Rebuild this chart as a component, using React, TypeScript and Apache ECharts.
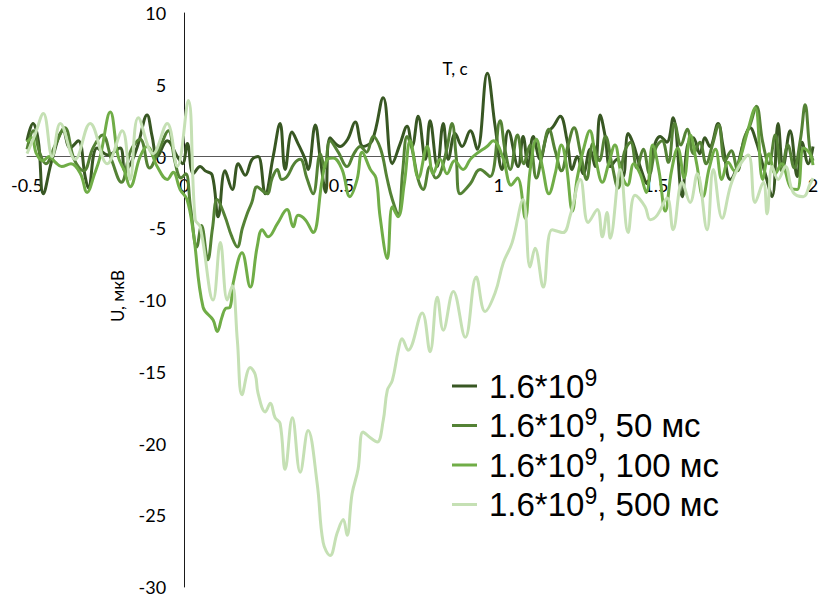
import React, { useEffect, useRef } from "react";
import * as echarts from "echarts";

const seriesNames = ["1.6*10^9", "1.6*10^9, 50 мс", "1.6*10^9, 100 мс", "1.6*10^9, 500 мс"];
const legendSuffix = ["", ", 50 мс", ", 100 мс", ", 500 мс"];
const seriesColors = ["#385723", "#548235", "#70AD47", "#C5E0B4"];
const xTicks = [-0.5, 0, 0.5, 1, 1.5, 2];
const yTicks = [-30, -25, -20, -15, -10, -5, 0, 5, 10];

const s0: number[][] = [
  [-0.5, 1.1], [-0.481, 2.3], [-0.464, 1.1], [-0.448, -2.6], [-0.42, -0.2], [-0.385, 1.8], [-0.363, 0.6],
  [-0.337, 1.1], [-0.315, -1.4], [-0.305, -2.2], [-0.277, 0.6], [-0.242, 0.1], [-0.204, 0.6], [-0.188, -1.0],
  [-0.166, -0.3], [-0.146, 0.9], [-0.118, 2.9], [-0.102, 1.4], [-0.086, 0.0], [-0.054, 1.1], [-0.022, 0.0],
  [-0.005, -0.5], [0.01, 0.9], [0.029, -1.2], [0.051, -0.7], [0.067, -1.0], [0.089, -1.3], [0.108, -4.2],
  [0.13, -1.0], [0.153, -2.3], [0.172, -0.5], [0.194, -1.3], [0.216, -0.2], [0.235, 0.0], [0.258, -2.6],
  [0.283, 0.0], [0.305, 2.3], [0.321, -0.9], [0.343, 1.7], [0.362, 0.9], [0.385, -0.2], [0.394, -0.9],
  [0.417, 2.2], [0.433, -0.2], [0.45, -2.5], [0.464, 1.3], [0.496, 0.7], [0.52, 1.2], [0.544, 2.4],
  [0.569, 0.7], [0.598, 1.1], [0.633, 4.1], [0.662, -0.5], [0.687, 0.9], [0.709, 2.1], [0.725, 0.7],
  [0.744, 2.8], [0.767, -0.2], [0.782, 2.5], [0.805, -0.7], [0.824, 2.3], [0.84, -0.2], [0.862, 1.6],
  [0.884, 0.7], [0.91, 1.8], [0.932, 0.5], [0.964, 5.8], [0.989, 2.1], [1.011, -0.9], [1.031, 1.8],
  [1.062, -0.7], [1.078, 1.4], [1.094, -0.7], [1.11, 1.4], [1.132, -0.2], [1.155, 1.6], [1.174, 2.1],
  [1.196, 2.8], [1.218, 1.1], [1.234, -0.9], [1.25, 0.0], [1.269, -1.2], [1.291, 0.5], [1.307, -0.7],
  [1.323, 2.9], [1.339, 1.4], [1.355, -0.7], [1.377, -0.2], [1.396, -1.4], [1.412, 1.6], [1.428, 0.9],
  [1.45, -0.7], [1.473, -1.9], [1.492, 0.5], [1.514, 1.4], [1.535, 1.0], [1.555, 2.7], [1.584, -2.8],
  [1.6, 0.7], [1.619, 1.3], [1.64, 0.2], [1.656, 1.3], [1.672, 0.7], [1.698, 2.3], [1.714, 0.7],
  [1.737, -1.6], [1.759, -0.7], [1.778, 0.9], [1.8, 2.0], [1.82, 1.0], [1.848, -1.2], [1.87, -2.8],
  [1.889, 2.3], [1.905, -0.7], [1.927, 1.8], [1.95, -1.4], [1.965, 1.0], [1.985, -0.5], [2.0, 0.7],
];

const s1: number[][] = [
  [-0.5, 0.5], [-0.48, 1.8], [-0.46, 0.3], [-0.44, -0.5], [-0.41, 0.8], [-0.38, 2.0], [-0.35, -0.2],
  [-0.32, -1.0], [-0.29, 0.6], [-0.26, 1.5], [-0.23, -0.3], [-0.2, -1.8], [-0.17, 0.4], [-0.14, 1.2],
  [-0.11, -0.8], [-0.08, 0.5], [-0.05, 1.8], [-0.03, -0.3], [-0.01, -1.5], [0.005, -1.2], [0.02, -3.5],
  [0.04, -6.3], [0.055, -4.8], [0.075, -7.2], [0.09, -5.0], [0.105, -3.0], [0.13, -4.2], [0.15, -5.5],
  [0.169, -6.3], [0.185, -5.0], [0.2, -4.0], [0.215, -3.2], [0.232, -2.1], [0.25, -2.4], [0.264, -2.6],
  [0.28, -1.5], [0.296, -0.9], [0.31, -1.6], [0.327, -1.4], [0.35, -0.5], [0.369, -0.2], [0.39, -1.5],
  [0.41, -2.6], [0.433, 0.2], [0.447, -0.8], [0.464, 1.1], [0.49, 0.3], [0.518, -0.7], [0.54, 0.2],
  [0.56, 0.7], [0.58, 0.3], [0.601, 1.4], [0.625, 0.5], [0.645, -1.5], [0.662, -3.0], [0.681, -4.0],
  [0.695, -1.0], [0.709, 1.4], [0.725, 0.5], [0.744, -1.6], [0.76, -2.3], [0.782, -0.7], [0.8, -1.5],
  [0.814, -1.2], [0.835, 0.5], [0.852, 2.3], [0.865, 0.0], [0.878, -2.6], [0.91, -1.9], [0.941, -0.9],
  [0.973, -1.4], [1.005, 2.5], [1.02, 0.5], [1.037, -0.9], [1.06, 1.5], [1.08, -0.5], [1.1, 0.8],
  [1.12, -1.5], [1.14, 0.3], [1.16, 1.9], [1.18, 0.4], [1.2, -1.0], [1.22, 0.7], [1.24, 2.0], [1.26, 0.3],
  [1.28, -1.6], [1.3, 0.9], [1.32, -0.3], [1.34, 1.4], [1.36, -0.5], [1.38, -2.2], [1.4, 0.3], [1.42, 1.0],
  [1.44, -0.8], [1.46, 0.5], [1.48, -1.2], [1.5, 0.6], [1.52, 1.1], [1.54, -0.4], [1.56, 2.3], [1.58, 0.8],
  [1.6, 1.9], [1.62, 0.2], [1.64, 1.0], [1.66, -0.5], [1.68, 0.8], [1.7, 2.2], [1.72, -0.3], [1.74, 0.4],
  [1.76, -1.0], [1.78, 1.2], [1.8, 2.2], [1.82, 3.5], [1.84, 1.0], [1.86, -0.5], [1.88, 1.5], [1.9, -1.0],
  [1.92, 0.8], [1.94, -0.8], [1.96, 1.2], [1.975, 3.6], [1.99, 0.5], [2.0, -0.3],
];

const s2: number[][] = [
  [-0.5, 1.0], [-0.485, 1.3], [-0.47, 0.2], [-0.45, -0.3], [-0.43, 0.0], [-0.41, -0.4], [-0.39, -0.7],
  [-0.36, -0.5], [-0.33, -1.2], [-0.309, -2.5], [-0.285, -1.2], [-0.267, 0.0], [-0.235, 3.1], [-0.21, 0.0],
  [-0.19, -1.0], [-0.172, -2.1], [-0.14, 0.0], [-0.118, 0.7], [-0.086, -0.7], [-0.054, -1.6], [-0.035, -1.1],
  [-0.013, -2.3], [0.009, -3.0], [0.029, -5.3], [0.06, -10.5], [0.092, -11.4], [0.105, -12.2], [0.12, -11.2],
  [0.131, -10.6], [0.146, -10.5], [0.156, -8.8], [0.184, -6.7], [0.21, -9.1], [0.232, -6.3], [0.248, -5.1],
  [0.267, -5.6], [0.296, -4.7], [0.327, -3.7], [0.347, -4.9], [0.362, -4.1], [0.385, -4.4], [0.41, -5.3],
  [0.439, -1.6], [0.455, -0.2], [0.474, -0.1], [0.502, -0.9], [0.527, -2.8], [0.55, -1.6], [0.566, 0.3],
  [0.592, -0.9], [0.61, -1.5], [0.623, -4.2], [0.646, -7.1], [0.662, -3.5], [0.68, -4.2], [0.7, -1.9],
  [0.719, 1.1], [0.745, -1.5], [0.773, 0.7], [0.792, -1.2], [0.814, -0.2], [0.836, -1.2], [0.86, -0.3],
  [0.887, -0.9], [0.91, -0.2], [0.93, 0.2], [0.963, 0.7], [0.983, 1.1], [1.014, -0.1], [1.04, -2.0],
  [1.06, -1.5], [1.085, -4.3], [1.1, -1.0], [1.12, 1.2], [1.14, -0.8], [1.16, -2.6], [1.18, -1.2],
  [1.2, 0.8], [1.215, -0.5], [1.235, -3.8], [1.25, -1.5], [1.27, 0.5], [1.29, 1.8], [1.31, -0.3],
  [1.33, -1.8], [1.35, -0.5], [1.37, 0.8], [1.39, -1.2], [1.41, -2.0], [1.43, -0.5], [1.45, -1.2],
  [1.47, -2.5], [1.49, 0.8], [1.51, -1.0], [1.53, -3.8], [1.55, -1.0], [1.57, 0.6], [1.59, -1.5],
  [1.61, 1.5], [1.63, -0.5], [1.65, -2.8], [1.67, -0.8], [1.69, 0.5], [1.71, -1.6], [1.73, -0.4],
  [1.75, -1.0], [1.77, 0.0], [1.79, 1.6], [1.816, 3.4], [1.84, -1.6], [1.86, 0.2], [1.88, -1.2],
  [1.9, -0.5], [1.93, -2.2], [1.95, -2.3], [1.97, 0.6], [1.99, 0.2], [2.0, -0.6],
];

const s3: number[][] = [
  [-0.5, 0.2], [-0.475, 1.5], [-0.448, 3.0], [-0.42, 0.0], [-0.394, 2.3], [-0.347, -0.2], [-0.299, 2.3],
  [-0.245, -0.5], [-0.197, 1.8], [-0.172, -1.6], [-0.146, 2.7], [-0.099, 0.2], [-0.054, 2.3], [-0.022, -0.7],
  [0.013, 3.9], [0.035, -4.4], [0.051, -4.9], [0.092, -10], [0.115, -6], [0.137, -10], [0.153, -9],
  [0.169, -12.8], [0.184, -16.6], [0.21, -14.7], [0.226, -15.2], [0.235, -16.5], [0.258, -17.8],
  [0.274, -17.2], [0.289, -18.2], [0.305, -18.6], [0.321, -21.8], [0.344, -18.2], [0.369, -22],
  [0.394, -19.1], [0.423, -22.8], [0.442, -26.9], [0.464, -27.8], [0.487, -26.2], [0.506, -25.3],
  [0.518, -26.4], [0.534, -23.5], [0.553, -21.8], [0.569, -19.2], [0.592, -19.6], [0.614, -19.9],
  [0.633, -18.4], [0.646, -16.3], [0.662, -15.6], [0.681, -13.5], [0.693, -12.7], [0.712, -13.5],
  [0.757, -10.9], [0.782, -13.6], [0.805, -9.8], [0.824, -12.1], [0.856, -9.4], [0.894, -12.6],
  [0.929, -8.4], [0.957, -10.8], [0.989, -9.5], [1.015, -7.4], [1.043, -6], [1.078, -3.0], [1.1, -7.7],
  [1.116, -6.4], [1.142, -9.1], [1.17, -5.1], [1.205, -5.3], [1.228, -4.1], [1.26, -1.6], [1.285, -4.6],
  [1.314, -3.7], [1.33, -5.6], [1.345, -3.9], [1.355, -5.7], [1.387, -0.9], [1.412, -5.3], [1.434, -2.7],
  [1.466, -3.5], [1.482, -4.4], [1.504, -4.1], [1.536, -2.9], [1.555, -5.1], [1.584, -1.8], [1.609, -3.2],
  [1.632, -1.2], [1.663, -5.1], [1.683, -0.9], [1.711, -4.3], [1.737, -2.1], [1.759, -0.9], [1.794, 0.1],
  [1.816, -3.2], [1.842, -1.8], [1.854, -4.0], [1.87, -0.7], [1.889, -1.6], [1.912, -0.7], [1.937, -2.5],
  [1.969, -2.8], [1.991, -1.9], [2.0, -1.5],
];

const allSeries = [s0, s1, s2, s3];

export default function App() {
  const ref = useRef<HTMLDivElement>(null);
  useEffect(() => {
    if (!ref.current) return;
    const chart = echarts.init(ref.current, null, { renderer: "svg" });
    chart.setOption({
      animation: false,
      backgroundColor: "#fff",
      grid: { left: 27, right: 7, top: 13, bottom: 15, containLabel: false, outerBoundsMode: "none" },
      xAxis: {
        type: "value",
        min: xTicks[0],
        max: xTicks[xTicks.length - 1],
        interval: 0.5,
        axisLine: { onZero: true, lineStyle: { color: "#595959", width: 1 } },
        axisTick: { show: false },
        splitLine: { show: false },
        axisLabel: { show: false },
      },
      yAxis: {
        type: "value",
        min: yTicks[0],
        max: yTicks[yTicks.length - 1],
        interval: 5,
        axisLine: { show: true, onZero: true, lineStyle: { color: "#1a1a1a", width: 1 } },
        axisTick: { show: false },
        splitLine: { show: false },
        axisLabel: { show: false },
      },
      legend: {
        orient: "vertical",
        left: 447,
        top: 361,
        itemGap: 3,
        itemWidth: 25,
        itemHeight: 3,
        icon: "rect",
        data: seriesNames,
        textStyle: {
          fontFamily: "Liberation Sans",
          fontSize: 33,
          color: "#000",
          padding: [0, 0, 0, 7],
          rich: {
            a: { fontFamily: "Liberation Sans", fontSize: 33, lineHeight: 40, color: "#000" },
            s: { fontFamily: "Liberation Sans", fontSize: 23, lineHeight: 20, verticalAlign: "top", color: "#000" },
          },
        },
        formatter: (name: string) => {
          const i = seriesNames.indexOf(name);
          const suf = legendSuffix[i];
          return "{a|1.6*10}{s|9}" + (suf ? "{a|" + suf + "}" : "");
        },
      },
      series: allSeries.map((d, i) => ({
        name: seriesNames[i],
        type: "line",
        data: d,
        smooth: 0.4,
        showSymbol: false,
        symbol: "none",
        z: 3,
        lineStyle: { color: seriesColors[i], width: 3 },
        itemStyle: { color: seriesColors[i] },
      })),
    });

    const labelStyle = { fontFamily: "Lato", fontSize: 18, fill: "#000" };
    const graphics: any[] = [];
    xTicks.forEach((t) => {
      const p = chart.convertToPixel({ gridIndex: 0 }, [t, 0]) as number[];
      graphics.push({
        type: "text",
        z: 0,
        x: p[0],
        y: p[1] + 28,
        style: { ...labelStyle, text: String(t), align: "center", verticalAlign: "middle" },
      });
    });
    yTicks.forEach((v) => {
      const p = chart.convertToPixel({ gridIndex: 0 }, [0, v]) as number[];
      graphics.push({
        type: "text",
        z: 0,
        x: p[0] - 18,
        y: p[1],
        style: { ...labelStyle, text: String(v), align: "right", verticalAlign: "middle" },
      });
    });
    graphics.push({
      type: "text",
      z: 0,
      x: 455,
      y: 68,
      style: { text: "T, c", fontFamily: "Lato", fontSize: 17, fill: "#000", align: "center", verticalAlign: "middle" },
    });
    graphics.push({
      type: "text",
      z: 0,
      x: 117,
      y: 296,
      rotation: Math.PI / 2,
      style: { text: "U, мкВ", fontFamily: "Lato", fontSize: 17, fill: "#000", align: "center", verticalAlign: "middle" },
    });
    chart.setOption({ graphic: graphics });
    return () => chart.dispose();
  }, []);
  return <div ref={ref} style={{ position: "fixed", left: 0, top: 0, width: 820, height: 602 }} />;
}
